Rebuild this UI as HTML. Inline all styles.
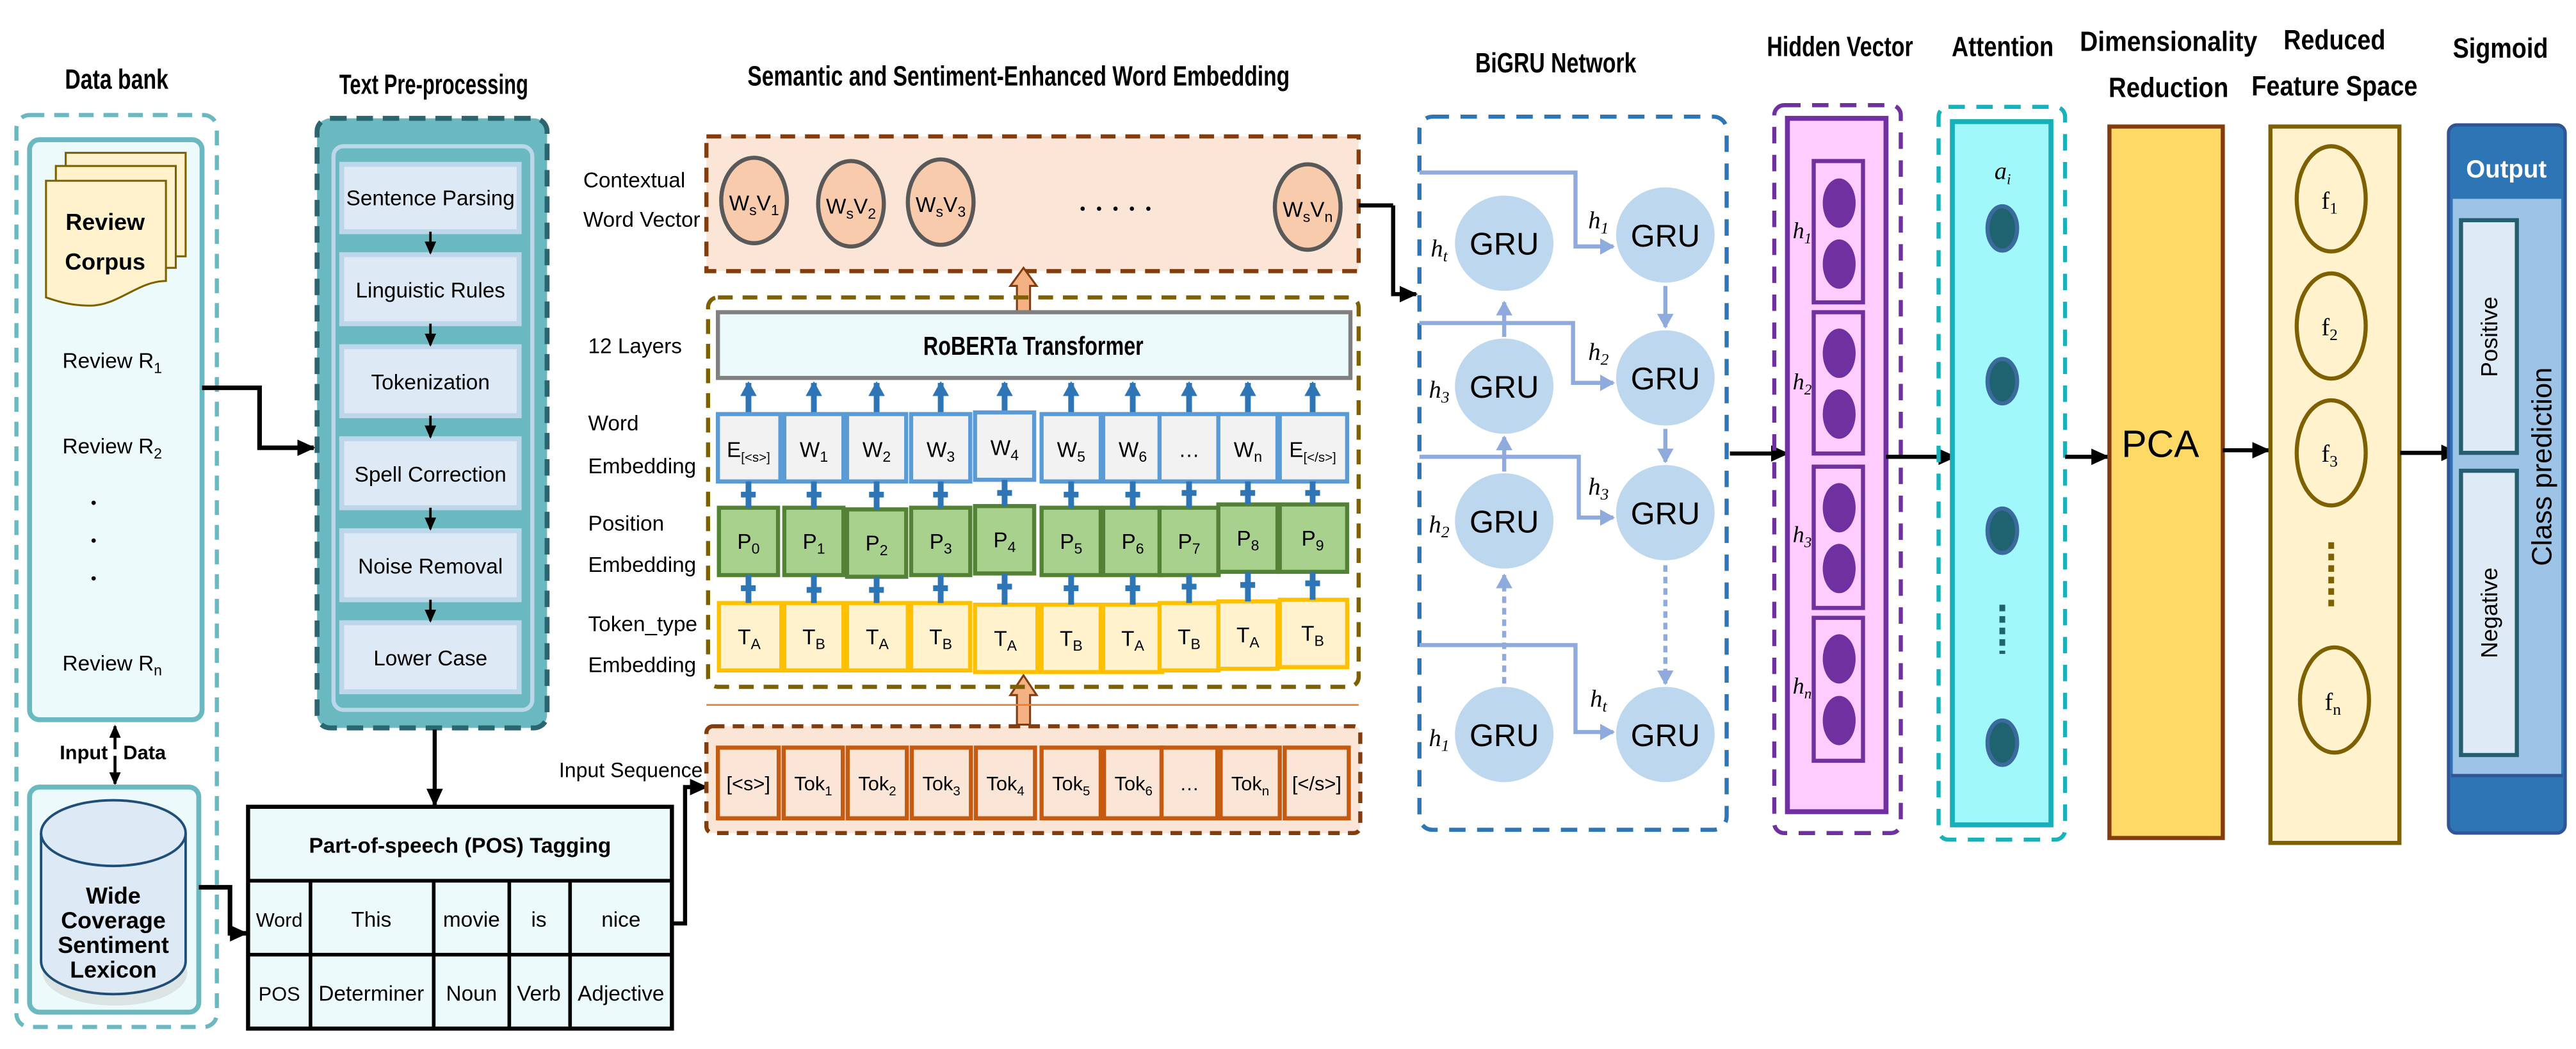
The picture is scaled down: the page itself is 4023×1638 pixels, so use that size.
<!DOCTYPE html>
<html><head><meta charset="utf-8"><style>
html,body{margin:0;padding:0;background:#fff}
svg{display:block}
text{font-family:"Liberation Sans Narrow","Liberation Sans",sans-serif;fill:#000}
.b{font-weight:bold}
.it{font-family:"Liberation Serif",serif;font-style:italic}
</style></head><body>
<svg width="4023" height="1638" viewBox="0 0 1568 638.4" xmlns="http://www.w3.org/2000/svg">
<defs>
<marker id="ak" markerUnits="userSpaceOnUse" markerWidth="12" markerHeight="12" refX="10" refY="6" orient="auto"><path d="M0,1 L11,6 L0,11 Z" fill="#000"/></marker>
<marker id="aks" markerUnits="userSpaceOnUse" markerWidth="8" markerHeight="8" refX="7" refY="4" orient="auto"><path d="M0,0.5 L8,4 L0,7.5 Z" fill="#000"/></marker>
<marker id="al" markerUnits="userSpaceOnUse" markerWidth="10" markerHeight="10" refX="8" refY="5" orient="auto"><path d="M0,0 L9,5 L0,10 Z" fill="#8faadc"/></marker>
<marker id="ab" markerUnits="userSpaceOnUse" markerWidth="10" markerHeight="10" refX="8" refY="5" orient="auto"><path d="M0,0 L9,5 L0,10 Z" fill="#2e75b6"/></marker>
</defs>

<!-- Titles -->
<text x="71" y="54" text-anchor="middle" class="b" font-size="17" textLength="63" lengthAdjust="spacingAndGlyphs">Data bank</text>
<text x="264" y="57" text-anchor="middle" class="b" font-size="17" textLength="115" lengthAdjust="spacingAndGlyphs">Text Pre-processing</text>
<text x="620" y="52" text-anchor="middle" class="b" font-size="17" textLength="330" lengthAdjust="spacingAndGlyphs">Semantic and Sentiment-Enhanced Word Embedding</text>
<text x="947" y="44" text-anchor="middle" class="b" font-size="17" textLength="98" lengthAdjust="spacingAndGlyphs">BiGRU Network</text>
<text x="1120" y="34" text-anchor="middle" class="b" font-size="17" textLength="89" lengthAdjust="spacingAndGlyphs">Hidden Vector</text>
<text x="1219" y="34" text-anchor="middle" class="b" font-size="17" textLength="62" lengthAdjust="spacingAndGlyphs">Attention</text>
<text x="1320" y="31" text-anchor="middle" class="b" font-size="17" textLength="108" lengthAdjust="spacingAndGlyphs">Dimensionality</text>
<text x="1320" y="59" text-anchor="middle" class="b" font-size="17" textLength="73" lengthAdjust="spacingAndGlyphs">Reduction</text>
<text x="1421" y="30" text-anchor="middle" class="b" font-size="17" textLength="62" lengthAdjust="spacingAndGlyphs">Reduced</text>
<text x="1421" y="58" text-anchor="middle" class="b" font-size="17" textLength="101" lengthAdjust="spacingAndGlyphs">Feature Space</text>
<text x="1522" y="35" text-anchor="middle" class="b" font-size="17" textLength="58" lengthAdjust="spacingAndGlyphs">Sigmoid</text>

<!-- Data bank -->
<rect x="10" y="70" width="122" height="555" rx="8" fill="none" stroke="#6bb9c0" stroke-width="2.5" stroke-dasharray="9,6"/>
<rect x="18" y="85" width="105" height="353" rx="6" fill="#ecfafb" stroke="#6bb9c0" stroke-width="3"/>
<rect x="40" y="93" width="73" height="63" fill="#fff2cc" stroke="#7f6000" stroke-width="1.2"/>
<rect x="34" y="101" width="73" height="62" fill="#fff2cc" stroke="#7f6000" stroke-width="1.2"/>
<path d="M28 110 H101 V171 C84 171 72 186 55 186 C42 186 34 183 28 181 Z" fill="#fff2cc" stroke="#7f6000" stroke-width="1.2"/>
<text x="64" y="140" text-anchor="middle" class="b" font-size="14">Review</text>
<text x="64" y="164" text-anchor="middle" class="b" font-size="14">Corpus</text>
<text x="38" y="224" font-size="13">Review R<tspan font-size="9" dy="3">1</tspan></text>
<text x="38" y="276" font-size="13">Review R<tspan font-size="9" dy="3">2</tspan></text>
<circle cx="57" cy="306" r="1.3" fill="#000"/>
<circle cx="57" cy="329" r="1.3" fill="#000"/>
<circle cx="57" cy="352" r="1.3" fill="#000"/>
<text x="38" y="408" font-size="13">Review R<tspan font-size="9" dy="3">n</tspan></text>
<line x1="70" y1="456" x2="70" y2="442" stroke="#000" stroke-width="1.8" marker-end="url(#aks)"/>
<line x1="70" y1="460" x2="70" y2="477" stroke="#000" stroke-width="1.8" marker-end="url(#aks)"/>
<text x="51" y="462" text-anchor="middle" class="b" font-size="12">Input</text>
<text x="88" y="462" text-anchor="middle" class="b" font-size="12">Data</text>
<rect x="18" y="479" width="103" height="137" rx="6" fill="#ecfafb" stroke="#6bb9c0" stroke-width="3"/>
<ellipse cx="70" cy="592" rx="44" ry="20" fill="#ccc" opacity="0.5"/>
<path d="M25 507 V585 A44 20 0 0 0 113 585 V507" fill="#dde9f5" stroke="#1f4e79" stroke-width="1.5"/>
<ellipse cx="69" cy="507" rx="44" ry="20" fill="#dde9f5" stroke="#1f4e79" stroke-width="1.5"/>
<text x="69" y="550" text-anchor="middle" class="b" font-size="14">Wide</text>
<text x="69" y="565" text-anchor="middle" class="b" font-size="14">Coverage</text>
<text x="69" y="580" text-anchor="middle" class="b" font-size="14">Sentiment</text>
<text x="69" y="595" text-anchor="middle" class="b" font-size="14">Lexicon</text>

<path d="M123 236 H158 V272.5 H191" fill="none" stroke="#000" stroke-width="2.8" marker-end="url(#ak)"/>

<!-- Text pre-processing -->
<rect x="193" y="72" width="140" height="371" rx="8" fill="#6bb9c0" stroke="#2a6570" stroke-width="3" stroke-dasharray="10,6"/>
<rect x="203" y="89" width="121" height="343" rx="6" fill="#6bb9c0" stroke="#bcd6ea" stroke-width="2.5"/>
<g fill="#dde9f5" stroke="#bcd6ea" stroke-width="3">
<rect x="208" y="100" width="108" height="41"/>
<rect x="208" y="155" width="108" height="42"/>
<rect x="208" y="211" width="108" height="42"/>
<rect x="208" y="267" width="108" height="42"/>
<rect x="208" y="323" width="108" height="42"/>
<rect x="208" y="379" width="108" height="42"/>
</g>
<g stroke="#000" stroke-width="1.5">
<line x1="262" y1="141" x2="262" y2="154" marker-end="url(#aks)"/>
<line x1="262" y1="197" x2="262" y2="210" marker-end="url(#aks)"/>
<line x1="262" y1="253" x2="262" y2="266" marker-end="url(#aks)"/>
<line x1="262" y1="309" x2="262" y2="322" marker-end="url(#aks)"/>
<line x1="262" y1="365" x2="262" y2="378" marker-end="url(#aks)"/>
</g>
<g font-size="13" text-anchor="middle">
<text x="262" y="125">Sentence Parsing</text>
<text x="262" y="181">Linguistic Rules</text>
<text x="262" y="237">Tokenization</text>
<text x="262" y="293">Spell Correction</text>
<text x="262" y="349">Noise Removal</text>
<text x="262" y="405">Lower Case</text>
</g>
<line x1="264.6" y1="444" x2="264.6" y2="490" stroke="#000" stroke-width="2.5" marker-end="url(#ak)"/>

<!-- POS table -->
<rect x="151" y="491" width="258" height="135" fill="#ecfafb" stroke="#000" stroke-width="2.5"/>
<g stroke="#000" stroke-width="2.2">
<line x1="151" y1="536" x2="409" y2="536"/>
<line x1="151" y1="581" x2="409" y2="581"/>
<line x1="189" y1="536" x2="189" y2="626"/>
<line x1="264" y1="536" x2="264" y2="626"/>
<line x1="310" y1="536" x2="310" y2="626"/>
<line x1="347" y1="536" x2="347" y2="626"/>
</g>
<text x="280" y="519" text-anchor="middle" class="b" font-size="13">Part-of-speech (POS) Tagging</text>
<g font-size="12" text-anchor="middle">
<text x="170" y="564">Word</text><text x="226" y="564" font-size="13">This</text><text x="287" y="564" font-size="13">movie</text><text x="328" y="564" font-size="13">is</text><text x="378" y="564" font-size="13">nice</text>
<text x="170" y="609">POS</text><text x="226" y="609" font-size="13">Determiner</text><text x="287" y="609" font-size="13">Noun</text><text x="328" y="609" font-size="13">Verb</text><text x="378" y="609" font-size="13">Adjective</text>
</g>
<path d="M121 540 H140 V568 H150" fill="none" stroke="#000" stroke-width="2.8" marker-end="url(#ak)"/>
<path d="M409 562 H417 V479 H430" fill="none" stroke="#000" stroke-width="2.5" marker-end="url(#ak)"/>
<text x="384" y="473" text-anchor="middle" font-size="12.5">Input Sequence</text>

<g font-size="13">
<text x="355" y="114">Contextual</text>
<text x="355" y="138">Word Vector</text>
<text x="358" y="215">12 Layers</text>
<text x="358" y="262">Word</text>
<text x="358" y="288">Embedding</text>
<text x="358" y="323">Position</text>
<text x="358" y="348">Embedding</text>
<text x="358" y="384">Token_type</text>
<text x="358" y="409">Embedding</text>
</g>

<!-- Contextual word vector -->
<rect x="430" y="83" width="397" height="82" fill="#fbe5d6" stroke="#843c0c" stroke-width="2.5" stroke-dasharray="9,6"/>
<g fill="#f8cbad" stroke="#595959" stroke-width="2.5">
<ellipse cx="459" cy="122" rx="20" ry="26"/>
<ellipse cx="518" cy="124" rx="20" ry="26"/>
<ellipse cx="572.6" cy="123" rx="20" ry="26"/>
<ellipse cx="796" cy="126" rx="20" ry="26"/>
</g>
<g font-size="13" text-anchor="middle">
<text x="459" y="128">W<tspan font-size="9" dy="3">s</tspan><tspan dy="-3">V</tspan><tspan font-size="9" dy="3">1</tspan></text>
<text x="518" y="130">W<tspan font-size="9" dy="3">s</tspan><tspan dy="-3">V</tspan><tspan font-size="9" dy="3">2</tspan></text>
<text x="572.6" y="129">W<tspan font-size="9" dy="3">s</tspan><tspan dy="-3">V</tspan><tspan font-size="9" dy="3">3</tspan></text>
<text x="796" y="132">W<tspan font-size="9" dy="3">s</tspan><tspan dy="-3">V</tspan><tspan font-size="9" dy="3">n</tspan></text>
</g>
<g fill="#000"><circle cx="659" cy="127" r="1.3"/><circle cx="669" cy="127" r="1.3"/><circle cx="679" cy="127" r="1.3"/><circle cx="689" cy="127" r="1.3"/><circle cx="699" cy="127" r="1.3"/></g>
<line x1="827" y1="125" x2="848" y2="125" stroke="#000" stroke-width="2.5"/>
<path d="M848 125 V179 H862" fill="none" stroke="#000" stroke-width="2.5" marker-end="url(#ak)"/>

<path d="M619 190 V174 H615 L623 163 L631 174 H627 V190 Z" fill="#f4b183" stroke="#843c0c" stroke-width="1.2"/>
<path d="M619 441 V423 H615 L623 411 L631 423 H627 V441 Z" fill="#f4b183" stroke="#843c0c" stroke-width="1.2"/>

<rect x="431" y="181" width="396" height="237" rx="6" fill="none" stroke="#7f6000" stroke-width="2.5" stroke-dasharray="9,6"/>
<rect x="437" y="190" width="385" height="40" fill="#ecfafb" stroke="#808080" stroke-width="2.5"/>
<text x="629" y="216" text-anchor="middle" class="b" font-size="16" textLength="134" lengthAdjust="spacingAndGlyphs">RoBERTa Transformer</text>

<g stroke="#2e75b6" stroke-width="3.5" marker-end="url(#ab)">
<line x1="455.6" y1="252" x2="455.6" y2="233"/>
<line x1="495.4" y1="252" x2="495.4" y2="233"/>
<line x1="533.6" y1="252" x2="533.6" y2="233"/>
<line x1="572.6" y1="252" x2="572.6" y2="233"/>
<line x1="611.5" y1="252" x2="611.5" y2="233"/>
<line x1="652" y1="252" x2="652" y2="233"/>
<line x1="689.5" y1="252" x2="689.5" y2="233"/>
<line x1="723.8" y1="252" x2="723.8" y2="233"/>
<line x1="759.6" y1="252" x2="759.6" y2="233"/>
<line x1="799" y1="252" x2="799" y2="233"/>
</g>
<g fill="#f2f2f2" stroke="#5b9bd5" stroke-width="2.5">
<rect x="437" y="252" width="38" height="41"/>
<rect x="477.4" y="252" width="36" height="41"/>
<rect x="515.6" y="252" width="36" height="41"/>
<rect x="554.6" y="252" width="36" height="41"/>
<rect x="593.5" y="251" width="36" height="41"/>
<rect x="634" y="252" width="36" height="41"/>
<rect x="671.5" y="252" width="36" height="41"/>
<rect x="705.8" y="252" width="36" height="41"/>
<rect x="741.6" y="252" width="36" height="41"/>
<rect x="779" y="252" width="41" height="41"/>
</g>
<g font-size="13" text-anchor="middle">
<text x="455.6" y="278">E<tspan font-size="8" dy="3">[&lt;s&gt;]</tspan></text>
<text x="495.4" y="278">W<tspan font-size="9" dy="3">1</tspan></text>
<text x="533.6" y="278">W<tspan font-size="9" dy="3">2</tspan></text>
<text x="572.6" y="278">W<tspan font-size="9" dy="3">3</tspan></text>
<text x="611.5" y="277">W<tspan font-size="9" dy="3">4</tspan></text>
<text x="652" y="278">W<tspan font-size="9" dy="3">5</tspan></text>
<text x="689.5" y="278">W<tspan font-size="9" dy="3">6</tspan></text>
<text x="723.8" y="278">…</text>
<text x="759.6" y="278">W<tspan font-size="9" dy="3">n</tspan></text>
<text x="799" y="278">E<tspan font-size="8" dy="3">[&lt;/s&gt;]</tspan></text>
</g>
<g fill="#a9d18e" stroke="#538135" stroke-width="2.5">
<rect x="437.6" y="309" width="36" height="41"/>
<rect x="477.4" y="309" width="36" height="41"/>
<rect x="515.6" y="310" width="36" height="41"/>
<rect x="554.6" y="309" width="36" height="41"/>
<rect x="593.5" y="308" width="36" height="41"/>
<rect x="634" y="309" width="36" height="41"/>
<rect x="671.5" y="309" width="36" height="41"/>
<rect x="705.8" y="309" width="36" height="41"/>
<rect x="741.6" y="307" width="36" height="41"/>
<rect x="779" y="307" width="41" height="41"/>
</g>
<g font-size="13" text-anchor="middle">
<text x="455.6" y="334">P<tspan font-size="9" dy="3">0</tspan></text>
<text x="495.4" y="334">P<tspan font-size="9" dy="3">1</tspan></text>
<text x="533.6" y="335">P<tspan font-size="9" dy="3">2</tspan></text>
<text x="572.6" y="334">P<tspan font-size="9" dy="3">3</tspan></text>
<text x="611.5" y="333">P<tspan font-size="9" dy="3">4</tspan></text>
<text x="652" y="334">P<tspan font-size="9" dy="3">5</tspan></text>
<text x="689.5" y="334">P<tspan font-size="9" dy="3">6</tspan></text>
<text x="723.8" y="334">P<tspan font-size="9" dy="3">7</tspan></text>
<text x="759.6" y="332">P<tspan font-size="9" dy="3">8</tspan></text>
<text x="799" y="332">P<tspan font-size="9" dy="3">9</tspan></text>
</g>
<g fill="#fff2cc" stroke="#ffc000" stroke-width="2.5">
<rect x="437.6" y="367" width="38" height="41"/>
<rect x="477.4" y="367" width="36" height="41"/>
<rect x="515.6" y="367" width="37" height="41"/>
<rect x="554.6" y="367" width="36" height="41"/>
<rect x="593.5" y="368" width="38" height="41"/>
<rect x="634" y="368" width="36" height="41"/>
<rect x="671.5" y="368" width="36" height="41"/>
<rect x="705.8" y="367" width="36" height="41"/>
<rect x="741.6" y="366" width="36" height="41"/>
<rect x="779" y="365" width="41" height="41"/>
</g>
<g font-size="13" text-anchor="middle">
<text x="456" y="392">T<tspan font-size="9" dy="3">A</tspan></text>
<text x="495.4" y="392">T<tspan font-size="9" dy="3">B</tspan></text>
<text x="534" y="392">T<tspan font-size="9" dy="3">A</tspan></text>
<text x="572.6" y="392">T<tspan font-size="9" dy="3">B</tspan></text>
<text x="612" y="393">T<tspan font-size="9" dy="3">A</tspan></text>
<text x="652" y="393">T<tspan font-size="9" dy="3">B</tspan></text>
<text x="689.5" y="393">T<tspan font-size="9" dy="3">A</tspan></text>
<text x="723.8" y="392">T<tspan font-size="9" dy="3">B</tspan></text>
<text x="759.6" y="391">T<tspan font-size="9" dy="3">A</tspan></text>
<text x="799" y="390">T<tspan font-size="9" dy="3">B</tspan></text>
</g>
<g stroke="#2e75b6" stroke-width="3.5">
<path d="M455.6 293 V309 M451 301 H460"/>
<path d="M495.4 293 V309 M491 301 H500"/>
<path d="M533.6 293 V310 M529 301 H538"/>
<path d="M572.6 293 V309 M568 301 H577"/>
<path d="M611.5 292 V308 M607 300 H616"/>
<path d="M652 293 V309 M647.5 301 H656.5"/>
<path d="M689.5 293 V309 M685 301 H694"/>
<path d="M723.8 293 V309 M719.3 300 H728.3"/>
<path d="M759.6 293 V307 M755 300 H764"/>
<path d="M799 293 V307 M794.5 300 H803.5"/>
<path d="M455.6 350 V367 M451 358 H460"/>
<path d="M495.4 350 V367 M491 359 H500"/>
<path d="M533.6 351 V367 M529 359 H538"/>
<path d="M572.6 350 V367 M568 358 H577"/>
<path d="M611.5 349 V368 M607 357 H616"/>
<path d="M652 350 V368 M647.5 358 H656.5"/>
<path d="M689.5 350 V368 M685 358 H694"/>
<path d="M723.8 350 V367 M719.3 357 H728.3"/>
<path d="M759.6 348 V366 M755 356 H764"/>
<path d="M799 348 V365 M794.5 355 H803.5"/>
</g>

<line x1="430" y1="429" x2="827" y2="429" stroke="#ed7d31" stroke-width="1"/>

<rect x="430" y="442" width="398" height="65" rx="4" fill="#fbe5d6" stroke="#843c0c" stroke-width="2.5" stroke-dasharray="7,5"/>
<g fill="#fbe5d6" stroke="#c55a11" stroke-width="2.5">
<rect x="437" y="455" width="37" height="43"/>
<rect x="477" y="455" width="36" height="43"/>
<rect x="516" y="455" width="36" height="43"/>
<rect x="555" y="455" width="36" height="43"/>
<rect x="594" y="455" width="36" height="43"/>
<rect x="634" y="455" width="36" height="43"/>
<rect x="672" y="455" width="36" height="43"/>
<rect x="707" y="455" width="34" height="43"/>
<rect x="743" y="455" width="36" height="43"/>
<rect x="782" y="455" width="39" height="43"/>
</g>
<g font-size="12" text-anchor="middle">
<text x="455.5" y="481">[&lt;s&gt;]</text>
<text x="495" y="481">Tok<tspan font-size="8" dy="3">1</tspan></text>
<text x="534" y="481">Tok<tspan font-size="8" dy="3">2</tspan></text>
<text x="573" y="481">Tok<tspan font-size="8" dy="3">3</tspan></text>
<text x="612" y="481">Tok<tspan font-size="8" dy="3">4</tspan></text>
<text x="652" y="481">Tok<tspan font-size="8" dy="3">5</tspan></text>
<text x="690" y="481">Tok<tspan font-size="8" dy="3">6</tspan></text>
<text x="724" y="481">…</text>
<text x="761" y="481">Tok<tspan font-size="8" dy="3">n</tspan></text>
<text x="801.5" y="481">[&lt;/s&gt;]</text>
</g>

<!-- BiGRU -->
<rect x="864" y="71" width="187" height="434" rx="8" fill="none" stroke="#2e75b6" stroke-width="2.5" stroke-dasharray="10,7"/>
<g fill="none" stroke="#8faadc" stroke-width="2.5">
<path d="M864 105 H959 V150 H982" marker-end="url(#al)"/>
<path d="M864 196.6 H957.5 V233 H982" marker-end="url(#al)"/>
<path d="M864 278 H961 V315 H982" marker-end="url(#al)"/>
<path d="M864 392.6 H959 V445.5 H982" marker-end="url(#al)"/>
<path d="M915.6 205 V184" marker-end="url(#al)"/>
<path d="M915.6 287 V266" marker-end="url(#al)"/>
<path d="M915.6 416 V350" stroke-dasharray="4,3" marker-end="url(#al)"/>
<path d="M1013.7 174 V199" marker-end="url(#al)"/>
<path d="M1013.7 261 V281" marker-end="url(#al)"/>
<path d="M1013.7 344 V416" stroke-dasharray="4,3" marker-end="url(#al)"/>
</g>
<g fill="#bdd7ee">
<ellipse cx="915.6" cy="148" rx="30" ry="29"/>
<ellipse cx="915.6" cy="235" rx="30" ry="29"/>
<ellipse cx="915.6" cy="317" rx="30" ry="29"/>
<ellipse cx="915.6" cy="447" rx="30" ry="29"/>
<ellipse cx="1013.7" cy="143" rx="30" ry="29"/>
<ellipse cx="1013.7" cy="230" rx="30" ry="29"/>
<ellipse cx="1013.7" cy="312" rx="30" ry="29"/>
<ellipse cx="1013.7" cy="447" rx="30" ry="29"/>
</g>
<g font-size="19" text-anchor="middle">
<text x="915.6" y="155" style="font-family:'Liberation Sans',sans-serif">GRU</text>
<text x="915.6" y="242" style="font-family:'Liberation Sans',sans-serif">GRU</text>
<text x="915.6" y="324" style="font-family:'Liberation Sans',sans-serif">GRU</text>
<text x="915.6" y="454" style="font-family:'Liberation Sans',sans-serif">GRU</text>
<text x="1013.7" y="150" style="font-family:'Liberation Sans',sans-serif">GRU</text>
<text x="1013.7" y="237" style="font-family:'Liberation Sans',sans-serif">GRU</text>
<text x="1013.7" y="319" style="font-family:'Liberation Sans',sans-serif">GRU</text>
<text x="1013.7" y="454" style="font-family:'Liberation Sans',sans-serif">GRU</text>
</g>
<g font-size="15" text-anchor="middle">
<text x="876" y="156" class="it">h<tspan font-size="10" dy="3">t</tspan></text>
<text x="876" y="242" class="it">h<tspan font-size="10" dy="3">3</tspan></text>
<text x="876" y="324" class="it">h<tspan font-size="10" dy="3">2</tspan></text>
<text x="876" y="454" class="it">h<tspan font-size="10" dy="3">1</tspan></text>
<text x="973" y="139" class="it">h<tspan font-size="10" dy="3">1</tspan></text>
<text x="973" y="219" class="it">h<tspan font-size="10" dy="3">2</tspan></text>
<text x="973" y="301" class="it">h<tspan font-size="10" dy="3">3</tspan></text>
<text x="973" y="430" class="it">h<tspan font-size="10" dy="3">t</tspan></text>
</g>
<line x1="1053" y1="276" x2="1088" y2="276" stroke="#000" stroke-width="2.5" marker-end="url(#ak)"/>

<!-- Hidden vector -->
<rect x="1080" y="64" width="77" height="443" rx="6" fill="none" stroke="#7030a0" stroke-width="2.5" stroke-dasharray="10,7"/>
<rect x="1088" y="72" width="60" height="422" fill="#ffccff" stroke="#7030a0" stroke-width="3"/>
<g fill="none" stroke="#7030a0" stroke-width="2.5">
<rect x="1104" y="98" width="30" height="86"/>
<rect x="1104" y="190" width="30" height="86"/>
<rect x="1104" y="284" width="30" height="86"/>
<rect x="1104" y="376" width="30" height="87"/>
</g>
<g fill="#7030a0">
<ellipse cx="1119.5" cy="123.6" rx="10" ry="15"/><ellipse cx="1119.5" cy="160.7" rx="10" ry="15"/>
<ellipse cx="1119.5" cy="215" rx="10" ry="15"/><ellipse cx="1119.5" cy="252" rx="10" ry="15"/>
<ellipse cx="1119.5" cy="309" rx="10" ry="15"/><ellipse cx="1119.5" cy="346" rx="10" ry="15"/>
<ellipse cx="1119.5" cy="401" rx="10" ry="15"/><ellipse cx="1119.5" cy="438.5" rx="10" ry="15"/>
</g>
<g font-size="14" text-anchor="middle">
<text x="1097" y="145" class="it">h<tspan font-size="9" dy="3">1</tspan></text>
<text x="1097" y="237" class="it">h<tspan font-size="9" dy="3">2</tspan></text>
<text x="1097" y="330" class="it">h<tspan font-size="9" dy="3">3</tspan></text>
<text x="1097" y="422" class="it">h<tspan font-size="9" dy="3">n</tspan></text>
</g>
<line x1="1148" y1="278" x2="1190" y2="278" stroke="#000" stroke-width="2.5" marker-end="url(#ak)"/>

<!-- Attention -->
<rect x="1180" y="65" width="77" height="446" rx="6" fill="none" stroke="#17b3bd" stroke-width="2.5" stroke-dasharray="10,7"/>
<rect x="1188.4" y="74" width="60" height="428" fill="#a0f8fa" stroke="#17b0b8" stroke-width="3"/>
<text x="1219" y="109" text-anchor="middle" class="it" font-size="15">a<tspan font-size="9" dy="3">i</tspan></text>
<g fill="#1f6370" stroke="#3b6a9c" stroke-width="2.5">
<ellipse cx="1218.8" cy="139" rx="9" ry="13.5"/>
<ellipse cx="1218.8" cy="232" rx="9" ry="13.5"/>
<ellipse cx="1218.8" cy="323" rx="9" ry="13.5"/>
<ellipse cx="1218.8" cy="452" rx="9" ry="13.5"/>
</g>
<line x1="1218.8" y1="368" x2="1218.8" y2="398" stroke="#1f6370" stroke-width="3.5" stroke-dasharray="4,3"/>
<line x1="1257" y1="278" x2="1283" y2="278" stroke="#000" stroke-width="2.5" marker-end="url(#ak)"/>

<!-- PCA -->
<rect x="1284" y="77" width="69" height="433" fill="#ffd966" stroke="#843c0c" stroke-width="2.5"/>
<text x="1315" y="278" text-anchor="middle" font-size="23" style="font-family:'Liberation Sans',sans-serif">PCA</text>
<line x1="1353" y1="274" x2="1381" y2="274" stroke="#000" stroke-width="2.5" marker-end="url(#ak)"/>

<!-- Reduced feature space -->
<rect x="1382" y="77" width="78.5" height="436" fill="#fff2cc" stroke="#7f6000" stroke-width="2.5"/>
<g fill="none" stroke="#7f6000" stroke-width="2.5">
<ellipse cx="1419" cy="121" rx="21" ry="32"/>
<ellipse cx="1419" cy="198.4" rx="21" ry="32"/>
<ellipse cx="1419" cy="275.6" rx="21" ry="32"/>
<ellipse cx="1421" cy="426" rx="21" ry="32"/>
</g>
<line x1="1419" y1="330" x2="1419" y2="370" stroke="#7f6000" stroke-width="3.5" stroke-dasharray="4,3"/>
<g font-size="15" text-anchor="middle">
<text x="1418" y="127" style="font-family:'Liberation Serif',serif">f<tspan font-size="10" dy="3">1</tspan></text>
<text x="1418" y="204" style="font-family:'Liberation Serif',serif">f<tspan font-size="10" dy="3">2</tspan></text>
<text x="1418" y="281" style="font-family:'Liberation Serif',serif">f<tspan font-size="10" dy="3">3</tspan></text>
<text x="1420" y="432" style="font-family:'Liberation Serif',serif">f<tspan font-size="10" dy="3">n</tspan></text>
</g>
<line x1="1461" y1="275.6" x2="1496" y2="275.6" stroke="#000" stroke-width="2.5" marker-end="url(#ak)"/>

<!-- Sigmoid -->
<rect x="1490.4" y="76" width="71" height="431" rx="5" fill="#2e75b6" stroke="#2f5597" stroke-width="2"/>
<rect x="1493" y="121" width="66" height="351" fill="#9dc3e6"/>
<line x1="1492" y1="472" x2="1560" y2="472" stroke="#2f5597" stroke-width="2"/>
<text x="1525.6" y="108" text-anchor="middle" class="b" font-size="15" style="fill:#fff;font-family:'Liberation Sans',sans-serif">Output</text>
<rect x="1498" y="134" width="34" height="141.6" fill="#deebf7" stroke="#255e6e" stroke-width="2.5"/>
<rect x="1498" y="286.5" width="34" height="173" fill="#deebf7" stroke="#255e6e" stroke-width="2.5"/>
<text transform="translate(1520,205) rotate(-90)" text-anchor="middle" font-size="14" style="font-family:'Liberation Sans',sans-serif">Positive</text>
<text transform="translate(1520,373) rotate(-90)" text-anchor="middle" font-size="14" style="font-family:'Liberation Sans',sans-serif">Negative</text>
<text transform="translate(1553,284) rotate(-90)" text-anchor="middle" font-size="17" style="font-family:'Liberation Sans',sans-serif">Class prediction</text>
</svg>
</body></html>
